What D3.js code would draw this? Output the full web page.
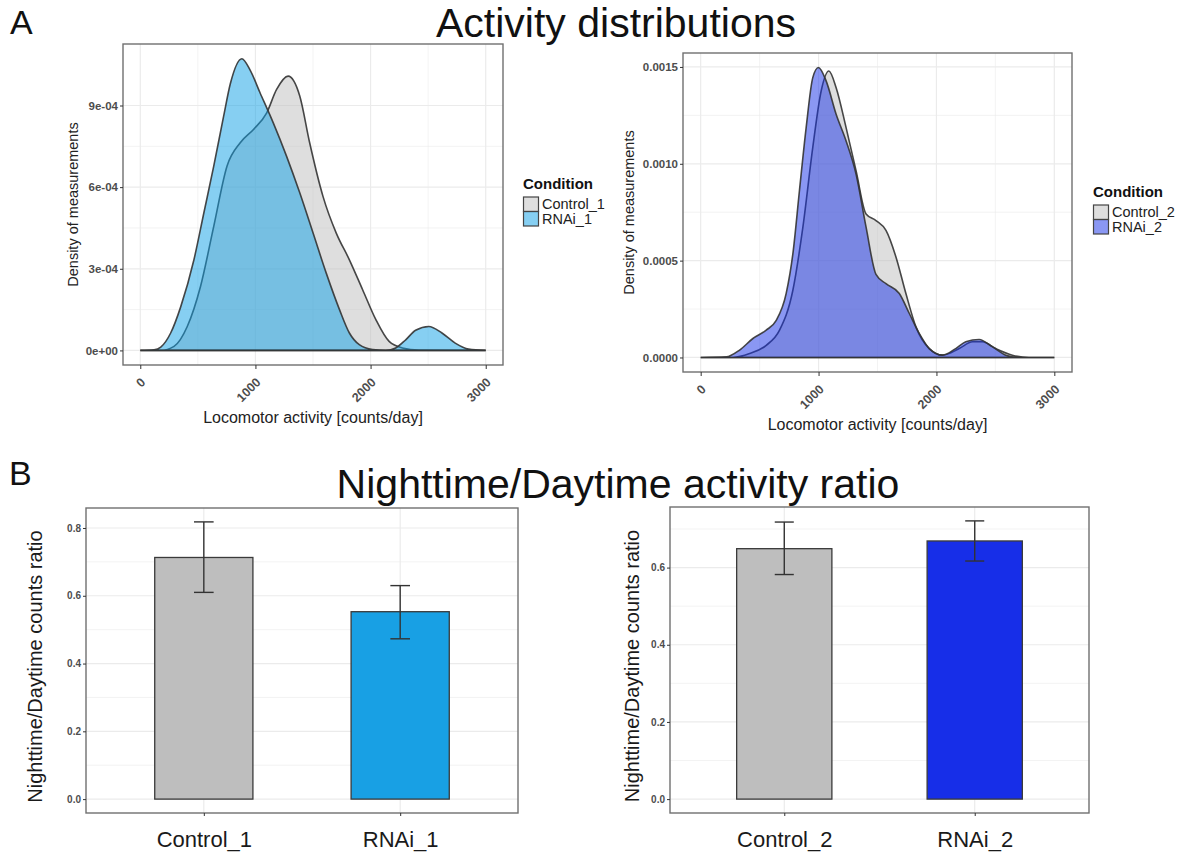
<!DOCTYPE html>
<html>
<head>
<meta charset="utf-8">
<script src="https://cdn.jsdelivr.net/npm/d3@7"></script>
<style>
  body { margin: 0; background: #fff; }
  svg { display: block; font-family: "Liberation Sans", Arial, sans-serif; }
</style>
</head>
<body>
<svg id="fig" width="1188" height="856"></svg>
<script>
// ---- data ----
var ctrl1X = [0, 178, 293, 408, 523, 638, 753, 868, 983, 1098, 1184, 1284, 1385, 1471, 1586, 1701, 1816, 1931, 2046, 2161, 2276, 2420, 3000];
var ctrl1Y = [0, 0.0, 0.015, 0.088, 0.235, 0.456, 0.677, 0.763, 0.812, 0.873, 0.959, 1.008, 0.935, 0.763, 0.567, 0.432, 0.333, 0.223, 0.113, 0.033, 0.009, 0.001, 0];
var rnai1X = [0, 120, 178, 264, 351, 466, 552, 638, 724, 782, 882, 954, 1040, 1155, 1270, 1385, 1500, 1615, 1730, 1816, 1902, 2017, 2132, 2218, 2305, 2391, 2506, 2620, 2735, 2851, 3000];
var rnai1Y = [0, 0.002, 0.012, 0.064, 0.16, 0.333, 0.505, 0.677, 0.861, 0.98, 1.072, 1.03, 0.947, 0.836, 0.714, 0.579, 0.432, 0.284, 0.150, 0.064, 0.021, 0.003, 0.0, 0.009, 0.039, 0.074, 0.088, 0.064, 0.027, 0.005, 0];
var ctrl2X = [0, 274, 415, 556, 669, 782, 867, 951, 1022, 1087, 1149, 1233, 1318, 1403, 1487, 1572, 1657, 1741, 1826, 1939, 2052, 2193, 2306, 2390, 2503, 2644, 2785, 3000];
var ctrl2Y = [0, 0.0, 0.02, 0.063, 0.141, 0.347, 0.673, 1.085, 1.376, 1.479, 1.393, 1.188, 0.964, 0.741, 0.707, 0.656, 0.518, 0.33, 0.158, 0.046, 0.012, 0.046, 0.081, 0.081, 0.046, 0.012, 0.0, 0];
var rnai2X = [0, 217, 330, 443, 556, 641, 725, 782, 838, 895, 951, 999, 1064, 1149, 1233, 1318, 1403, 1487, 1572, 1685, 1770, 1854, 1939, 2052, 2164, 2249, 2362, 2475, 2588, 2701, 3000];
var rnai2Y = [0, 0.003, 0.038, 0.098, 0.141, 0.192, 0.33, 0.535, 0.862, 1.188, 1.445, 1.497, 1.428, 1.256, 1.119, 0.947, 0.673, 0.429, 0.381, 0.33, 0.227, 0.124, 0.046, 0.012, 0.046, 0.081, 0.093, 0.055, 0.012, 0.0, 0];

var xTicks = [0, 1000, 2000, 3000];
var yTicksA1 = [0, 0.3, 0.6, 0.9];          // x 1e-3
var yTickLabelsA1 = ["0e+00", "3e-04", "6e-04", "9e-04"];
var yTicksA2 = [0, 0.5, 1.0, 1.5];          // x 1e-3
var yTickLabelsA2 = ["0.0000", "0.0005", "0.0010", "0.0015"];

var groups1 = ["Control_1", "RNAi_1"];
var groups2 = ["Control_2", "RNAi_2"];
var ratio1 = [0.713, 0.553];
var ratio1Low = [0.610, 0.473];
var ratio1High = [0.818, 0.630];
var ratio2 = [0.649, 0.669];
var ratio2Low = [0.582, 0.617];
var ratio2High = [0.718, 0.721];
var yTicksB1 = [0, 0.2, 0.4, 0.6, 0.8];
var yTicksB2 = [0, 0.2, 0.4, 0.6];

var svg = d3.select("#fig");
var gridCol = "#ebebeb";
var borderCol = "#707070";
var tickTextCol = "#4d4d4d";

function zip(xs, ys) {
    return xs.map(function(x, i) { return {x: x, y: ys[i]}; });
}

// ---- density panel ----
function drawDensity(cfg) {
    var x = d3.scaleLinear().domain([-150, 3150]).range([cfg.x0, cfg.x1]);
    var y = d3.scaleLinear().domain(cfg.yDom).range([cfg.y1, cfg.y0]);
    var g = svg.append("g");

    // grid (minor then major)
    var xMinor = [500, 1500, 2500];
    g.selectAll(".xmin").data(xMinor).enter().append("line")
        .attr("x1", function(d) { return x(d); }).attr("x2", function(d) { return x(d); })
        .attr("y1", cfg.y0).attr("y2", cfg.y1).attr("stroke", gridCol).attr("stroke-width", 0.6);
    var yMinor = cfg.yTicks.slice(0, -1).map(function(d, i) { return (d + cfg.yTicks[i + 1]) / 2; });
    g.selectAll(".ymin").data(yMinor).enter().append("line")
        .attr("x1", cfg.x0).attr("x2", cfg.x1)
        .attr("y1", function(d) { return y(d); }).attr("y2", function(d) { return y(d); })
        .attr("stroke", gridCol).attr("stroke-width", 0.6);
    g.selectAll(".xmaj").data(xTicks).enter().append("line")
        .attr("x1", function(d) { return x(d); }).attr("x2", function(d) { return x(d); })
        .attr("y1", cfg.y0).attr("y2", cfg.y1).attr("stroke", gridCol).attr("stroke-width", 1.2);
    g.selectAll(".ymaj").data(cfg.yTicks).enter().append("line")
        .attr("x1", cfg.x0).attr("x2", cfg.x1)
        .attr("y1", function(d) { return y(d); }).attr("y2", function(d) { return y(d); })
        .attr("stroke", gridCol).attr("stroke-width", 1.2);

    var area = d3.area()
        .x(function(d) { return x(d.x); })
        .y0(y(0))
        .y1(function(d) { return y(d.y); })
        .curve(d3.curveMonotoneX);

    cfg.series.forEach(function(s) {
        g.append("path").datum(zip(s.xs, s.ys))
            .attr("d", area)
            .attr("fill", s.fill).attr("fill-opacity", 0.5)
            .attr("stroke", "#333").attr("stroke-width", 1.6).attr("stroke-opacity", 0.9);
    });

    // border
    g.append("rect").attr("x", cfg.x0).attr("y", cfg.y0)
        .attr("width", cfg.x1 - cfg.x0).attr("height", cfg.y1 - cfg.y0)
        .attr("fill", "none").attr("stroke", borderCol).attr("stroke-width", 1.4);

    // axes
    var xAxis = g.append("g").attr("transform", "translate(0," + cfg.y1 + ")")
        .call(d3.axisBottom(x).tickValues(xTicks).tickSize(4).tickFormat(""));
    xAxis.select(".domain").remove();
    xAxis.selectAll("line").attr("stroke", "#333");
    g.selectAll(".xlab").data(xTicks).enter().append("text")
        .attr("transform", function(d) { return "translate(" + (x(d) + 6) + "," + (cfg.y1 + 18) + ") rotate(-45)"; })
        .attr("text-anchor", "end")
        .attr("font-size", 12.5).attr("font-weight", "bold").attr("fill", tickTextCol)
        .text(function(d) { return d; });

    var yAxis = g.append("g").attr("transform", "translate(" + cfg.x0 + ",0)")
        .call(d3.axisLeft(y).tickValues(cfg.yTicks).tickSize(3)
            .tickFormat(function(d, i) { return cfg.yLabels[i]; }));
    yAxis.select(".domain").remove();
    yAxis.selectAll("line").attr("stroke", "#333");
    yAxis.selectAll("text").attr("font-size", 11.5).attr("font-weight", "bold")
        .attr("fill", tickTextCol).attr("font-family", "Liberation Sans, Arial, sans-serif")
        .attr("x", -5);

    g.append("text")
        .attr("x", (cfg.x0 + cfg.x1) / 2).attr("y", cfg.xTitleY)
        .attr("text-anchor", "middle").attr("font-size", 16).attr("fill", "#222")
        .text("Locomotor activity [counts/day]");
    g.append("text")
        .attr("transform", "translate(" + cfg.yTitleX + "," + ((cfg.y0 + cfg.y1) / 2) + ") rotate(-90)")
        .attr("text-anchor", "middle").attr("font-size", 14.5).attr("fill", "#222")
        .text("Density of measurements");

    // legend
    var lg = svg.append("g").attr("transform", "translate(" + cfg.legX + "," + cfg.legY + ")");
    lg.append("text").attr("x", 0).attr("y", 0)
        .attr("font-size", 15).attr("font-weight", "bold").attr("fill", "#111")
        .text("Condition");
    cfg.series.forEach(function(s, i) {
        lg.append("rect").attr("x", 0.5).attr("y", 8 + i * 14.5)
            .attr("width", 15).attr("height", 14.5)
            .attr("fill", s.fill).attr("fill-opacity", 0.5)
            .attr("stroke", "#444").attr("stroke-width", 1.2);
        lg.append("text").attr("x", 19).attr("y", 20 + i * 14.5)
            .attr("font-size", 14.5).attr("fill", "#222")
            .text(s.name);
    });
}

// ---- bar panel ----
function drawBars(cfg) {
    var x = d3.scalePoint().domain(cfg.groups).range([cfg.x0, cfg.x1]).padding(0.6);
    var step = x.step();
    var y = d3.scaleLinear().domain(cfg.yDom).range([cfg.y1, cfg.y0]);
    var g = svg.append("g");

    var yMinor = [0.1, 0.3, 0.5, 0.7];
    g.selectAll(".ymin").data(yMinor.filter(function(d) { return d < cfg.yDom[1]; })).enter().append("line")
        .attr("x1", cfg.x0).attr("x2", cfg.x1)
        .attr("y1", function(d) { return y(d); }).attr("y2", function(d) { return y(d); })
        .attr("stroke", gridCol).attr("stroke-width", 0.6);
    g.selectAll(".ymaj").data(cfg.yTicks).enter().append("line")
        .attr("x1", cfg.x0).attr("x2", cfg.x1)
        .attr("y1", function(d) { return y(d); }).attr("y2", function(d) { return y(d); })
        .attr("stroke", gridCol).attr("stroke-width", 1.2);
    g.selectAll(".xmaj").data(cfg.groups).enter().append("line")
        .attr("x1", function(d) { return x(d); }).attr("x2", function(d) { return x(d); })
        .attr("y1", cfg.y0).attr("y2", cfg.y1).attr("stroke", gridCol).attr("stroke-width", 1.2);

    g.selectAll(".bar").data(cfg.groups).enter().append("rect")
        .attr("x", function(d) { return x(d) - step * 0.25; })
        .attr("width", step * 0.5)
        .attr("y", function(d, i) { return y(cfg.values[i]); })
        .attr("height", function(d, i) { return y(0) - y(cfg.values[i]); })
        .attr("fill", function(d, i) { return cfg.colors[i]; })
        .attr("stroke", "#3a3a3a").attr("stroke-width", 1.3);

    var eb = g.selectAll(".err").data(cfg.groups).enter().append("g").attr("stroke", "#333").attr("stroke-width", 1.4);
    eb.append("line")
        .attr("x1", function(d) { return x(d); }).attr("x2", function(d) { return x(d); })
        .attr("y1", function(d, i) { return y(cfg.low[i]); })
        .attr("y2", function(d, i) { return y(cfg.high[i]); });
    eb.append("line")
        .attr("x1", function(d) { return x(d) - step * 0.05; }).attr("x2", function(d) { return x(d) + step * 0.05; })
        .attr("y1", function(d, i) { return y(cfg.low[i]); })
        .attr("y2", function(d, i) { return y(cfg.low[i]); });
    eb.append("line")
        .attr("x1", function(d) { return x(d) - step * 0.05; }).attr("x2", function(d) { return x(d) + step * 0.05; })
        .attr("y1", function(d, i) { return y(cfg.high[i]); })
        .attr("y2", function(d, i) { return y(cfg.high[i]); });

    g.append("rect").attr("x", cfg.x0).attr("y", cfg.y0)
        .attr("width", cfg.x1 - cfg.x0).attr("height", cfg.y1 - cfg.y0)
        .attr("fill", "none").attr("stroke", borderCol).attr("stroke-width", 1.4);

    var xAxis = g.append("g").attr("transform", "translate(0," + cfg.y1 + ")")
        .call(d3.axisBottom(x).tickSize(3).tickPadding(15));
    xAxis.select(".domain").remove();
    xAxis.selectAll("line").attr("stroke", "#333");
    xAxis.selectAll("text").attr("font-size", 22).attr("fill", "#1a1a1a")
        .attr("font-family", "Liberation Sans, Arial, sans-serif");

    var yAxis = g.append("g").attr("transform", "translate(" + cfg.x0 + ",0)")
        .call(d3.axisLeft(y).tickValues(cfg.yTicks).tickSize(3).tickFormat(d3.format(".1f")));
    yAxis.select(".domain").remove();
    yAxis.selectAll("line").attr("stroke", "#333");
    yAxis.selectAll("text").attr("font-size", 10).attr("font-weight", "bold")
        .attr("fill", tickTextCol).attr("font-family", "Liberation Sans, Arial, sans-serif")
        .attr("x", -5);

    g.append("text")
        .attr("transform", "translate(" + cfg.yTitleX + "," + ((cfg.y0 + cfg.y1) / 2 + 6) + ") rotate(-90)")
        .attr("text-anchor", "middle").attr("font-size", 20).attr("fill", "#1a1a1a")
        .text("Nighttime/Daytime counts ratio");
}

drawDensity({
    x0: 123, x1: 503, y0: 44, y1: 365,
    yDom: [-0.0536, 1.126], yTicks: yTicksA1, yLabels: yTickLabelsA1,
    xTitleY: 423, yTitleX: 78, legX: 523, legY: 189,
    series: [
        {name: "Control_1", xs: ctrl1X, ys: ctrl1Y, fill: "#bdbdbd"},
        {name: "RNAi_1", xs: rnai1X, ys: rnai1Y, fill: "#0ea0e6"}
    ]
});
drawDensity({
    x0: 683, x1: 1072, y0: 53, y1: 372,
    yDom: [-0.075, 1.572], yTicks: yTicksA2, yLabels: yTickLabelsA2,
    xTitleY: 430, yTitleX: 634, legX: 1093, legY: 197,
    series: [
        {name: "Control_2", xs: ctrl2X, ys: ctrl2Y, fill: "#bdbdbd"},
        {name: "RNAi_2", xs: rnai2X, ys: rnai2Y, fill: "#1530e8"}
    ]
});
drawBars({
    x0: 86, x1: 518, y0: 508, y1: 813,
    yDom: [-0.041, 0.859], yTicks: yTicksB1, groups: groups1,
    values: ratio1, low: ratio1Low, high: ratio1High,
    colors: ["#bebebe", "#18a0e4"], yTitleX: 42
});
drawBars({
    x0: 670, x1: 1089, y0: 507, y1: 813,
    yDom: [-0.036, 0.757], yTicks: yTicksB2, groups: groups2,
    values: ratio2, low: ratio2Low, high: ratio2High,
    colors: ["#bebebe", "#172ee8"], yTitleX: 639
});

// titles and panel letters
svg.append("text").attr("x", 616).attr("y", 37).attr("text-anchor", "middle")
    .attr("font-size", 41).attr("fill", "#111").text("Activity distributions");
svg.append("text").attr("x", 618).attr("y", 498).attr("text-anchor", "middle")
    .attr("font-size", 41).attr("fill", "#111").text("Nighttime/Daytime activity ratio");
svg.append("text").attr("x", 10).attr("y", 34)
    .attr("font-size", 34).attr("fill", "#111").text("A");
svg.append("text").attr("x", 9).attr("y", 485)
    .attr("font-size", 34).attr("fill", "#111").text("B");
</script>
</body>
</html>
